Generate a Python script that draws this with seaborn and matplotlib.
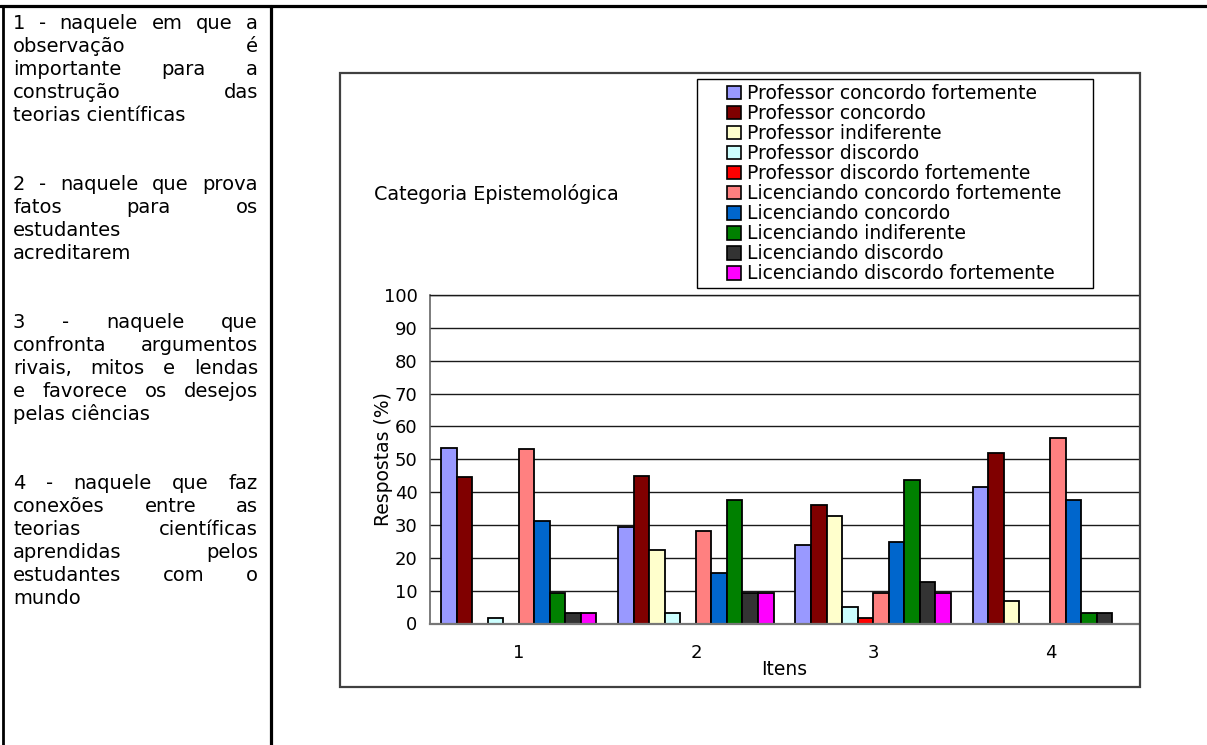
import numpy as np
import pandas as pd
import matplotlib
matplotlib.use('Agg')
import matplotlib.pyplot as plt
import seaborn as sns
from matplotlib.patches import Patch, Rectangle
from matplotlib.lines import Line2D

# dados
itens = ['1', '2', '3', '4']
series = ['Professor concordo fortemente', 'Professor concordo', 'Professor indiferente',
          'Professor discordo', 'Professor discordo fortemente',
          'Licenciando concordo fortemente', 'Licenciando concordo', 'Licenciando indiferente',
          'Licenciando discordo', 'Licenciando discordo fortemente']
prof_cf = [53.4, 29.3, 24.0, 41.5]
prof_c = [44.7, 44.8, 36.2, 51.8]
prof_i = [0, 22.3, 32.8, 6.8]
prof_d = [1.6, 3.3, 5.1, 0]
prof_df = [0, 0, 1.6, 0]
lic_cf = [53.0, 28.1, 9.4, 56.4]
lic_c = [31.2, 15.5, 24.9, 37.6]
lic_i = [9.4, 37.6, 43.7, 3.1]
lic_d = [3.1, 9.4, 12.5, 3.1]
lic_df = [3.1, 9.4, 9.4, 0]
cores = ['#9999FF', '#800000', '#FFFFCC', '#CCFFFF', '#FF0000',
         '#FF8080', '#0066CC', '#008000', '#333333', '#FF00FF']

paragrafos = [
    [("1 - naquele em que a", True), ("observação é", True), ("importante para a", True),
     ("construção das", True), ("teorias científicas", False)],
    [("2 - naquele que prova", True), ("fatos para os", True), ("estudantes", False),
     ("acreditarem", False)],
    [("3 - naquele que", True), ("confronta argumentos", True), ("rivais, mitos e lendas", True),
     ("e favorece os desejos", True), ("pelas ciências", False)],
    [("4 - naquele que faz", True), ("conexões entre as", True), ("teorias científicas", True),
     ("aprendidas pelos", True), ("estudantes com o", True), ("mundo", False)],
]

valores = [prof_cf, prof_c, prof_i, prof_d, prof_df, lic_cf, lic_c, lic_i, lic_d, lic_df]
df = pd.DataFrame({'Itens': itens * len(series),
                   'Serie': np.repeat(series, len(itens)),
                   'Respostas': np.concatenate(valores)})

sns.set_style('white')
plt.rcParams['text.color'] = 'black'
plt.rcParams['axes.labelcolor'] = 'black'
plt.rcParams['xtick.labelcolor'] = 'black'
plt.rcParams['ytick.labelcolor'] = 'black'

W, H = 1207, 745
fig = plt.figure(figsize=(W / 100, H / 100), dpi=100)

def fx(px):
    return px / W

def fy(py):
    return 1 - py / H

ax = fig.add_axes([fx(430), fy(623.5), fx(1139) - fx(430), fy(295) - fy(623.5)])
sns.barplot(data=df, x='Itens', y='Respostas', hue='Serie', hue_order=series,
            palette=cores, saturation=1, width=0.876, edgecolor='black',
            linewidth=1.3, errorbar=None, legend=False, ax=ax)
for p in ax.patches:
    if p.get_height() == 0:
        p.set_linewidth(0)

ax.set_xlim(-0.5, 3.5)
ax.set_ylim(0, 100)
ax.set_yticks(range(0, 101, 10))
ax.yaxis.grid(True, color='#1a1a1a', linewidth=1.0)
ax.set_axisbelow(True)
ax.set_xticks([-0.5, 0.5, 1.5, 2.5, 3.5])
ax.set_xticklabels([])
ax.set_xticks(range(4), minor=True)
ax.set_xticklabels(itens, minor=True)
ax.tick_params(axis='x', which='major', direction='out', length=5, width=1, color='#555555')
ax.tick_params(axis='x', which='minor', length=0, pad=15, labelsize=13, labelcolor='black')
ax.tick_params(axis='y', direction='out', length=6, width=1, color='#555555', pad=3,
               labelsize=13, labelcolor='black')
ax.spines['right'].set_visible(False)
ax.spines['top'].set_color('#1a1a1a')
ax.spines['top'].set_linewidth(1.0)
ax.spines['left'].set_color('#666666')
ax.spines['left'].set_linewidth(1.2)
ax.spines['bottom'].set_color('#777777')
ax.spines['bottom'].set_linewidth(1.6)
ax.set_xlabel('Itens', fontsize=13.5, labelpad=-2, color='black')
ax.set_ylabel('Respostas (%)', fontsize=13.5, color='black')
ax.yaxis.set_label_coords(-0.052, 0.5)

# titulo do grafico
fig.text(fx(374), fy(200), 'Categoria Epistemológica', fontsize=13.8, va='baseline', ha='left')

# legenda
handles = [Patch(facecolor=c, edgecolor='black', linewidth=1.2) for c in cores]
fig.legend(handles, series, loc='upper left', bbox_to_anchor=(fx(727), fy(84)),
           frameon=False, borderpad=0, borderaxespad=0, handlelength=0.75,
           handleheight=0.75, handletextpad=0.3, labelspacing=0.055, fontsize=13.5)
fig.add_artist(Rectangle((fx(697), fy(288)), fx(1093) - fx(697), fy(79) - fy(288),
                         transform=fig.transFigure, fill=False, edgecolor='black', linewidth=1.0))

# moldura do grafico
fig.add_artist(Rectangle((fx(340), fy(687)), fx(1140) - fx(340), fy(73) - fy(687),
                         transform=fig.transFigure, fill=False, edgecolor='#404040', linewidth=1.6))

# linhas da tabela
fig.add_artist(Line2D([0, 1], [fy(6), fy(6)], transform=fig.transFigure, color='black', linewidth=2.3))
fig.add_artist(Line2D([fx(3), fx(3)], [fy(6), 0], transform=fig.transFigure, color='black', linewidth=2.0))
fig.add_artist(Line2D([fx(271), fx(271)], [fy(6), 0], transform=fig.transFigure, color='black', linewidth=2.3))

# texto justificado da coluna esquerda
renderer = fig.canvas.get_renderer()
x0, x1 = 13, 258
y = 29
for par in paragrafos:
    for linha, justificar in par:
        palavras = linha.split(' ')
        if justificar and len(palavras) > 1:
            objs = [fig.text(0, fy(y), p, fontsize=14, va='baseline', ha='left') for p in palavras]
            larg = [o.get_window_extent(renderer).width for o in objs]
            gap = (x1 - x0 - sum(larg)) / (len(objs) - 1)
            x = x0
            for o, w in zip(objs, larg):
                o.set_x(fx(x))
                x += w + gap
        else:
            fig.text(fx(x0), fy(y), linha, fontsize=14, va='baseline', ha='left')
        y += 23
    y += 46

fig.savefig('out.png', dpi=100)
